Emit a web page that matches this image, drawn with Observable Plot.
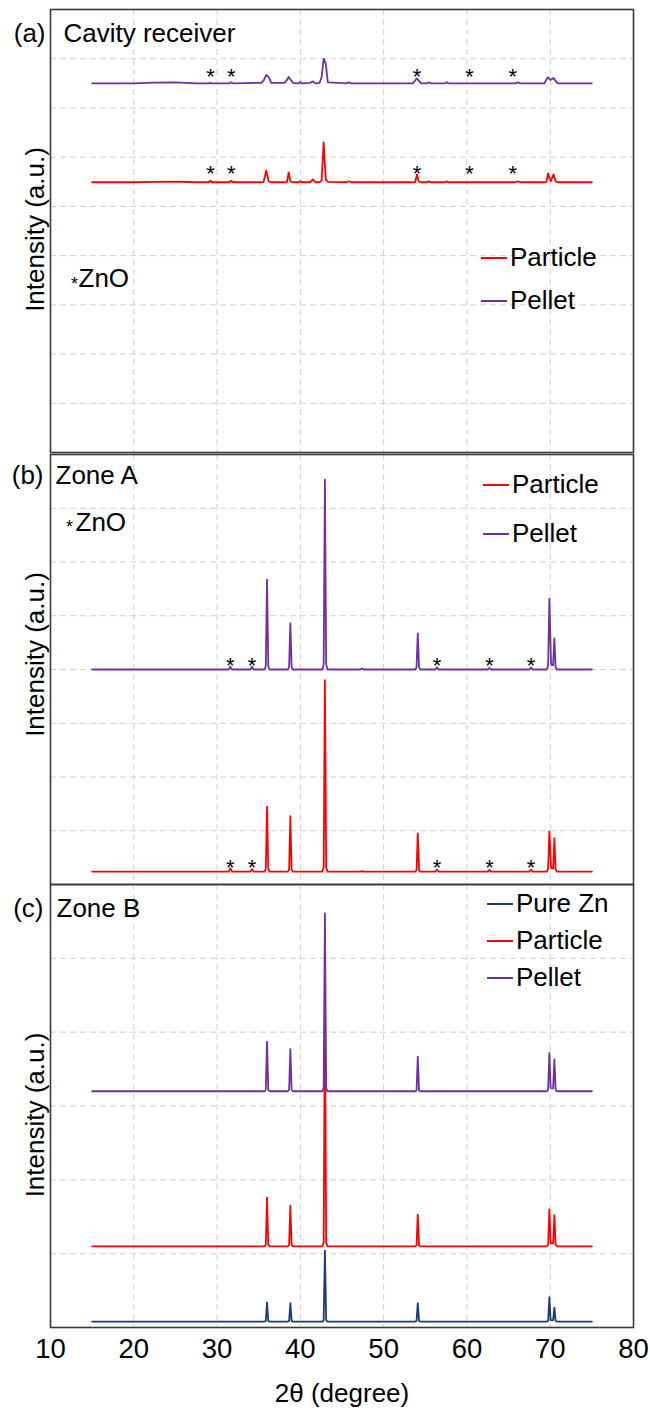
<!DOCTYPE html>
<html><head><meta charset="utf-8">
<script src="https://cdn.jsdelivr.net/npm/d3@7"></script>
<script src="https://cdn.jsdelivr.net/npm/@observablehq/plot@0.6"></script>
<style>
body{margin:0;background:#fff;}
#wrap{position:relative;width:650px;height:1410px;font-family:'Liberation Sans',Arial,sans-serif;}
#wrap svg{position:absolute;left:0;}
.legend{position:absolute;font-size:26px;color:#000;}
.legend .row{display:flex;align-items:center;}
.legend .sw{display:inline-block;width:26px;height:2px;margin-right:3px;}
</style></head><body><div id="wrap"></div><script>
// ---------- data ----------
const xTicks = [10, 20, 30, 40, 50, 60, 70, 80];
const seriesNames = ["Pure Zn", "Particle", "Pellet"];
const seriesColors = {"Pure Zn": "#1F3B73", "Particle": "#FF0000", "Pellet": "#7030A0"};

// (a) Cavity receiver
const twoThetaA = [15, 20, 22.5, 25, 27.5, 29.0, 29.2, 29.4, 31.5, 31.7, 31.9, 35.3, 35.6, 35.9, 36.2, 36.5, 38.1, 38.4, 38.6, 38.8, 39.1, 39.8, 40.0, 40.2, 41.2, 41.5, 41.8, 42.3, 42.55, 42.8, 43.05, 43.3, 45.5, 45.8, 46.1, 53.5, 53.8, 54.0, 54.2, 54.5, 55.2, 55.4, 55.6, 57.4, 57.6, 57.8, 65.8, 66.1, 66.4, 69.3, 69.55, 69.75, 70.05, 70.4, 70.65, 70.9, 75];
const pelletA = [7.50, 7.50, 7.515, 7.52, 7.50, 7.50, 7.51, 7.50, 7.50, 7.52, 7.50, 7.51, 7.56, 7.67, 7.63, 7.51, 7.51, 7.57, 7.63, 7.58, 7.51, 7.50, 7.53, 7.50, 7.51, 7.54, 7.50, 7.51, 7.62, 8.00, 7.90, 7.52, 7.50, 7.52, 7.50, 7.50, 7.56, 7.60, 7.56, 7.50, 7.50, 7.52, 7.50, 7.50, 7.52, 7.50, 7.50, 7.52, 7.50, 7.50, 7.58, 7.62, 7.57, 7.61, 7.55, 7.50, 7.50];
const particleA = [5.49, 5.49, 5.50, 5.505, 5.49, 5.49, 5.52, 5.49, 5.49, 5.52, 5.49, 5.49, 5.50, 5.73, 5.51, 5.49, 5.49, 5.50, 5.69, 5.51, 5.49, 5.49, 5.51, 5.49, 5.49, 5.55, 5.49, 5.49, 5.52, 6.30, 5.55, 5.50, 5.49, 5.51, 5.49, 5.49, 5.50, 5.65, 5.51, 5.49, 5.49, 5.51, 5.49, 5.49, 5.51, 5.49, 5.49, 5.51, 5.49, 5.49, 5.50, 5.67, 5.51, 5.65, 5.51, 5.49, 5.49];
const znoStarsA = [29.2, 31.7, 54.0, 60.3, 65.5];

// (b) Zone A
const twoThetaB = [15, 31.4, 31.6, 31.8, 34.0, 34.2, 34.4, 35.7, 35.85, 36.0, 36.15, 36.3, 38.5, 38.65, 38.8, 38.95, 39.1, 42.65, 42.8, 42.95, 43.1, 43.25, 47.2, 47.4, 47.6, 53.8, 53.95, 54.1, 54.25, 54.4, 56.2, 56.4, 56.6, 62.5, 62.7, 62.9, 67.5, 67.7, 67.9, 69.6, 69.75, 69.9, 70.1, 70.2, 70.35, 70.5, 70.65, 70.8, 75];
const pelletB = [4.00, 4.00, 4.05, 4.00, 4.00, 4.05, 4.00, 4.00, 4.06, 5.67, 4.06, 4.00, 4.00, 4.05, 4.86, 4.05, 4.00, 4.00, 4.10, 7.53, 4.10, 4.00, 4.00, 4.02, 4.00, 4.00, 4.04, 4.67, 4.04, 4.00, 4.00, 4.04, 4.00, 4.00, 4.03, 4.00, 4.00, 4.04, 4.00, 4.00, 4.08, 5.32, 4.12, 4.08, 4.08, 4.58, 4.04, 4.00, 4.00];
const particleB = [0.24, 0.24, 0.30, 0.24, 0.24, 0.29, 0.24, 0.24, 0.29, 1.45, 0.29, 0.24, 0.24, 0.28, 1.27, 0.28, 0.24, 0.24, 0.32, 3.80, 0.32, 0.24, 0.24, 0.25, 0.24, 0.24, 0.27, 0.95, 0.27, 0.24, 0.24, 0.28, 0.24, 0.24, 0.27, 0.24, 0.24, 0.28, 0.24, 0.24, 0.30, 0.99, 0.32, 0.30, 0.30, 0.86, 0.28, 0.24, 0.24];
const znoStarsB = [31.6, 34.2, 56.4, 62.7, 67.7];

// (c) Zone B
const twoThetaC = [15, 35.7, 35.85, 36.0, 36.15, 36.3, 38.5, 38.65, 38.8, 38.95, 39.1, 42.65, 42.8, 42.95, 43.1, 43.25, 53.8, 53.95, 54.1, 54.25, 54.4, 69.6, 69.75, 69.9, 70.05, 70.2, 70.35, 70.5, 70.65, 70.8, 75];
const pelletC = [3.20, 3.20, 3.22, 3.87, 3.22, 3.20, 3.20, 3.22, 3.77, 3.22, 3.20, 3.20, 3.25, 5.61, 3.25, 3.20, 3.20, 3.21, 3.67, 3.21, 3.20, 3.20, 3.22, 3.72, 3.25, 3.24, 3.24, 3.63, 3.22, 3.20, 3.20];
const particleC = [1.10, 1.10, 1.12, 1.76, 1.12, 1.10, 1.10, 1.12, 1.65, 1.12, 1.10, 1.10, 1.15, 4.29, 1.15, 1.10, 1.10, 1.11, 1.53, 1.11, 1.10, 1.10, 1.12, 1.60, 1.14, 1.14, 1.14, 1.52, 1.12, 1.10, 1.10];
const pureZnC = [0.08, 0.08, 0.09, 0.34, 0.09, 0.08, 0.08, 0.09, 0.33, 0.09, 0.08, 0.08, 0.10, 1.04, 0.10, 0.08, 0.08, 0.09, 0.33, 0.09, 0.08, 0.08, 0.09, 0.41, 0.10, 0.10, 0.10, 0.27, 0.09, 0.08, 0.08];

// ---------- rendering ----------
const FONT = "'Liberation Sans', Arial, sans-serif";
const GRID = {stroke: "#cfcfcf", strokeWidth: 1, strokeDasharray: "6,4"};

function txt(s, o) {
  return Plot.text([s], {text: d => d, fill: "#000", fontSize: 26, lineAnchor: "middle", ...o});
}

function makePanel(cfg) {
  const marks = [
    Plot.ruleX(xTicks.slice(1, -1), GRID),
    Plot.ruleY(d3.range(1, cfg.yMax), GRID)
  ];
  for (const s of cfg.series) {
    marks.push(Plot.line(cfg.xs.map((x, i) => ({x, y: s.ys[i]})),
      {x: "x", y: "y", stroke: seriesColors[s.name], strokeWidth: 1.8}));
  }
  for (const st of cfg.stars || []) {
    marks.push(Plot.text(st.xs, {x: d => d, y: () => st.base, text: () => "*", dy: st.dy,
      fontSize: 22, fill: "#000", lineAnchor: "middle"}));
  }
  marks.push(...cfg.texts);
  marks.push(Plot.frame({stroke: "#3a3a3a", strokeWidth: 1.6}));
  return Plot.plot({
    width: 650, height: cfg.height,
    marginLeft: 50, marginRight: 17, marginTop: cfg.mt, marginBottom: cfg.mb,
    x: cfg.axis
      ? {domain: [10, 80], ticks: xTicks, tickSize: 0, tickPadding: 11, label: null, tickFormat: d => String(d)}
      : {domain: [10, 80], axis: null},
    y: {domain: [0, cfg.yMax], axis: null},
    style: {background: "none", fontFamily: FONT, fontSize: "27.5px", overflow: "visible", color: "#000"},
    marks
  });
}

const wrap = document.getElementById("wrap");
const ylab = (dy) => txt("Intensity (a.u.)", {frameAnchor: "left", textAnchor: "middle", rotate: -90, dx: -15, dy});

const svgA = makePanel({
  xs: twoThetaA, yMax: 9, height: 456, mt: 9, mb: 4,
  series: [{name: "Particle", ys: particleA}, {name: "Pellet", ys: pelletA}],
  stars: [{xs: znoStarsA, base: pelletA[0], dy: -6}, {xs: znoStarsA, base: particleA[0], dy: -8}],
  texts: [
    txt("(a)", {frameAnchor: "top-left", textAnchor: "end", dx: -5, dy: 24}),
    txt("Cavity receiver", {frameAnchor: "top-left", textAnchor: "start", dx: 13, dy: 24}),
    txt("*", {frameAnchor: "top-left", textAnchor: "middle", dx: 24, dy: 275, fontSize: 18}),
    txt("ZnO", {frameAnchor: "top-left", textAnchor: "start", dx: 28, dy: 269}),
    ylab(-1.5)
  ]
});
svgA.style.top = "0px";

const svgB = makePanel({
  xs: twoThetaB, yMax: 8, height: 438, mt: 4, mb: 4,
  series: [{name: "Particle", ys: particleB}, {name: "Pellet", ys: pelletB}],
  stars: [{xs: znoStarsB, base: pelletB[0], dy: -4}, {xs: znoStarsB, base: particleB[0], dy: -4}],
  texts: [
    txt("(b)", {frameAnchor: "top-left", textAnchor: "end", dx: -7, dy: 21}),
    txt("Zone A", {frameAnchor: "top-left", textAnchor: "start", dx: 5, dy: 21}),
    txt("*", {frameAnchor: "top-left", textAnchor: "middle", dx: 19, dy: 73, fontSize: 18}),
    txt("ZnO", {frameAnchor: "top-left", textAnchor: "start", dx: 25, dy: 68}),
    ylab(-15)
  ]
});
svgB.style.top = "450px";

const svgC = makePanel({
  xs: twoThetaC, yMax: 6, height: 530, mt: 4, mb: 83, axis: true,
  series: [{name: "Pure Zn", ys: pureZnC}, {name: "Particle", ys: particleC}, {name: "Pellet", ys: pelletC}],
  texts: [
    txt("(c)", {frameAnchor: "top-left", textAnchor: "end", dx: -7, dy: 24}),
    txt("Zone B", {frameAnchor: "top-left", textAnchor: "start", dx: 6, dy: 24}),
    ylab(9),
    txt("2θ (degree)", {frameAnchor: "bottom", textAnchor: "middle", dy: 66})
  ]
});
svgC.style.top = "880px";

wrap.append(svgA, svgB, svgC);

function legend(names, left, top, rowH) {
  const div = document.createElement("div");
  div.className = "legend";
  div.style.left = left + "px";
  div.style.top = top + "px";
  for (const n of names) {
    const row = document.createElement("div");
    row.className = "row";
    row.style.height = rowH + "px";
    row.style.lineHeight = rowH + "px";
    const sw = document.createElement("span");
    sw.className = "sw";
    sw.style.background = seriesColors[n];
    const t = document.createElement("span");
    t.textContent = n;
    row.append(sw, t);
    div.append(row);
  }
  wrap.append(div);
}
legend(["Particle", "Pellet"], 481, 236, 43);
legend(["Particle", "Pellet"], 483, 460, 49);
legend(["Pure Zn", "Particle", "Pellet"], 487, 885, 37);
</script></body></html>
